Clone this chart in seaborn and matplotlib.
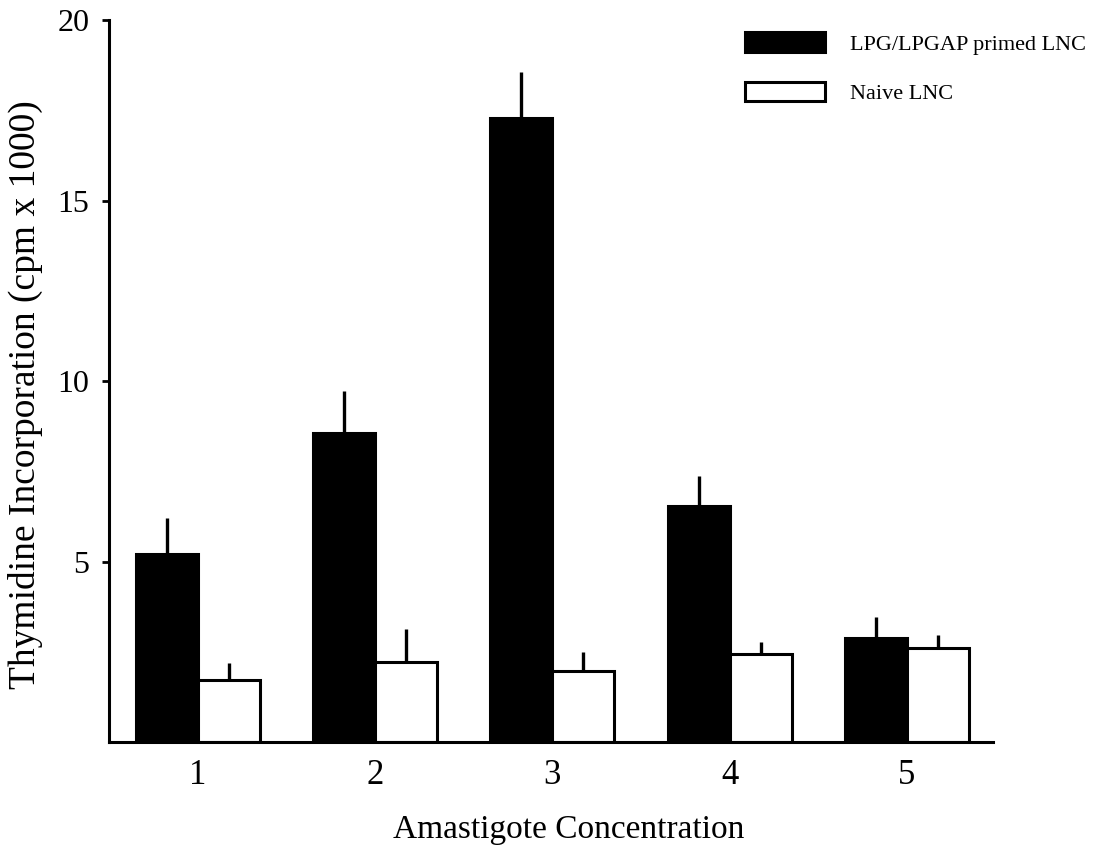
import matplotlib
matplotlib.use("Agg")
import matplotlib.pyplot as plt
import seaborn as sns
import pandas as pd
import numpy as np

concentrations = ["1", "2", "3", "4", "5"]
series_names = ["LPG/LPGAP primed LNC", "Naive LNC"]
primed_values = [5.22, 8.57, 17.30, 6.55, 2.89]
primed_errors = [1.00, 1.17, 1.25, 0.83, 0.58]
naive_values = [1.73, 2.23, 1.98, 2.45, 2.62]
naive_errors = [0.47, 0.91, 0.53, 0.33, 0.36]
y_ticks = [5, 10, 15, 20]

df = pd.DataFrame({
    "conc": concentrations * 2,
    "value": primed_values + naive_values,
    "group": [series_names[0]] * 5 + [series_names[1]] * 5,
})

sns.set_theme(style="white")
plt.rcParams["font.family"] = ["Liberation Serif", "DejaVu Serif"]
for k in ["text.color", "axes.labelcolor", "xtick.color", "ytick.color"]:
    plt.rcParams[k] = "black"

fig = plt.figure(figsize=(10.99, 8.5), dpi=100)
ax = fig.add_axes([0.0992, 0.1265, 0.8043, 0.85])

sns.barplot(data=df, x="conc", y="value", hue="group", order=concentrations,
            hue_order=series_names, palette=["black", "white"], width=0.7,
            errorbar=None, edgecolor="black", linewidth=2.2, saturation=1,
            ax=ax)

for cont, errs in zip(ax.containers, [primed_errors, naive_errors]):
    xs = [p.get_x() + p.get_width() / 2 for p in cont.patches]
    hs = [p.get_height() for p in cont.patches]
    ax.errorbar(xs, hs, yerr=[np.zeros(len(errs)), errs], fmt="none",
                ecolor="black", elinewidth=2.4, capsize=0, zorder=1)

ax.set_ylim(0, 20)
ax.set_xlim(-0.5, 4.485)
ax.set_yticks(y_ticks)
ax.set_yticklabels([str(t) for t in y_ticks], fontsize=23)
ax.tick_params(axis="y", length=5, width=2, direction="out", pad=9, left=True)
ax.tick_params(axis="x", length=0, pad=12, labelsize=25)

for s in ["top", "right"]:
    ax.spines[s].set_visible(False)
for s in ["left", "bottom"]:
    ax.spines[s].set_color("black")
    ax.spines[s].set_linewidth(2.2)

ax.set_xlabel("Amastigote Concentration", fontsize=24)
ax.xaxis.set_label_coords(0.52, -0.099, transform=ax.transAxes)
ax.xaxis.label.set_verticalalignment("top")
ax.set_ylabel("Thymidine Incorporation (cpm x 1000)", fontsize=27)
ax.yaxis.set_label_coords(-0.0747, 0.481, transform=ax.transAxes)

leg = ax.legend(loc="upper left", bbox_to_anchor=(0.678, 0.962),
                bbox_transform=fig.transFigure, frameon=False,
                borderaxespad=0, borderpad=0,
                fontsize=16, handlelength=3.6, handleheight=1.0,
                labelspacing=1.2, handletextpad=1.1)

fig.savefig("out.png", dpi=100)
